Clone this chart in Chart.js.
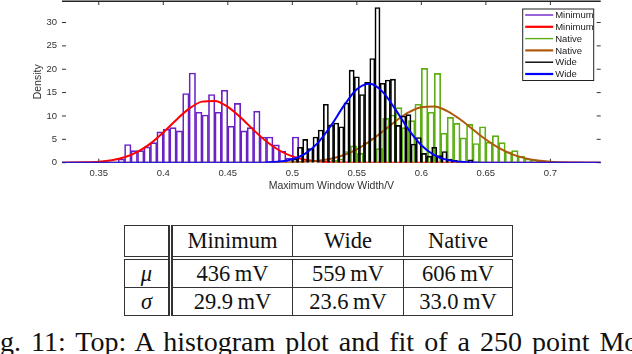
<!DOCTYPE html>
<html>
<head>
<meta charset="utf-8">
<script src="https://cdn.jsdelivr.net/npm/chart.js@4.4.1/dist/chart.umd.min.js"></script>
<style>
  html, body { margin: 0; padding: 0; background: #fff; }
  body { width: 632px; height: 354px; overflow: hidden; position: relative; }
  #plot { position: absolute; left: 0; top: 0; }
  #stats {
    position: absolute; left: 124px; top: 225px;
    border-collapse: collapse; table-layout: fixed; width: 388px;
    font-family: "Liberation Serif", "DejaVu Serif", serif; font-size: 22.5px; color: #111;
  }
  #stats td { border: 1px solid #333; padding: 0; text-align: center; line-height: 22px; }
  #stats tr.head td { height: 30px; border-bottom: 4px double #333; }
  #stats tr.row td { height: 27px; }
  #stats td.c0 { border-right: 5px double #333; }
  #stats i { font-style: italic; }
  #caption {
    position: absolute; left: 0; top: 327.5px; white-space: nowrap; word-spacing: 3px;
    font-family: "Liberation Serif", "DejaVu Serif", serif; font-size: 28px; line-height: 28px; color: #111;
  }
</style>
</head>
<body>
<canvas id="plot" width="632" height="200"></canvas>
<table id="stats">
  <colgroup><col style="width:46px"><col style="width:122px"><col style="width:111px"><col style="width:109px"></colgroup>
  <tbody id="statsBody"></tbody>
</table>
<div id="caption">g. 11: Top: A histogram plot and fit of a 250 point Mo</div>
<script>
// ---- data ----
const xTicks = [0.35, 0.4, 0.45, 0.5, 0.55, 0.6, 0.65, 0.7];
const yTicks = [0, 5, 10, 15, 20, 25, 30];

// Minimum: bins of 0.005 (centres)
const minimumBins = [0.3675, 0.3725, 0.3775, 0.3825, 0.3875, 0.3925, 0.3975, 0.4025, 0.4075, 0.4125,
  0.4175, 0.4225, 0.4275, 0.4325, 0.4375, 0.4425, 0.4475, 0.4525, 0.4575, 0.4625,
  0.4675, 0.4725, 0.4775, 0.4825, 0.4875, 0.4925, 0.4975, 0.5025];
const minimumDensity = [0.8, 3.9, 2.6, 2.6, 3.4, 4.3, 6.6, 7.2, 7.5, 6.8,
  14.8, 19.2, 10.8, 10.2, 14.6, 10.8, 15.5, 7.8, 12.7, 6.8,
  7.5, 11.0, 5.5, 5.5, 3.8, 2.5, 1.0, 5.5];

// Native: bins of 0.005 (centres)
const nativeBins = [0.5325, 0.5375, 0.5425, 0.5475, 0.5525, 0.5575, 0.5625, 0.5675, 0.5725, 0.5775,
  0.5825, 0.5875, 0.5925, 0.5975, 0.6025, 0.6075, 0.6125, 0.6175, 0.6225, 0.6275,
  0.6325, 0.6375, 0.6425, 0.6475, 0.6525, 0.6575, 0.6625, 0.6675, 0.6725, 0.6775,
  0.6825, 0.6875, 0.6925];
const nativeDensity = [0.5, 0.8, 2.4, 3.6, 2.0, 4.3, 5.2, 3.0, 9.5, 10.2,
  11.8, 7.5, 9.0, 12.5, 20.2, 10.8, 19.1, 6.3, 9.7, 8.4,
  5.3, 8.2, 4.1, 7.7, 4.4, 5.8, 4.3, 2.3, 2.6, 1.4,
  0.8, 0.6, 0.3];

// Wide: bins of 0.004 (centres)
const wideBins = [0.502, 0.506, 0.510, 0.514, 0.518, 0.522, 0.526, 0.530, 0.534, 0.538,
  0.542, 0.546, 0.550, 0.554, 0.558, 0.562, 0.566, 0.570, 0.574, 0.578,
  0.582, 0.586, 0.590, 0.594, 0.598, 0.602, 0.606, 0.610, 0.614, 0.618,
  0.622, 0.626, 0.630, 0.634, 0.638];
const wideDensity = [0.8, 3.3, 5.0, 3.0, 5.5, 7.0, 12.5, 8.1, 8.5, 7.7,
  12.8, 19.8, 18.4, 14.6, 17.2, 22.3, 33.2, 17.0, 17.7, 17.9,
  8.0, 10.0, 10.3, 4.0, 5.4, 2.0, 1.4, 3.3, 1.5, 2.4,
  0.8, 0.5, 0, 0, 0.6];

// fitted curves, sampled every 0.01 V
const fitX = [0.32, 0.33, 0.34, 0.35, 0.36, 0.37, 0.38, 0.39, 0.40, 0.41, 0.42, 0.43, 0.44, 0.45,
  0.46, 0.47, 0.48, 0.49, 0.50, 0.51, 0.52, 0.53, 0.54, 0.55, 0.56, 0.57, 0.58, 0.59,
  0.60, 0.61, 0.62, 0.63, 0.64, 0.65, 0.66, 0.67, 0.68, 0.69, 0.70, 0.71, 0.72, 0.73, 0.74];
const minimumFit = [0.01, 0.03, 0.08, 0.21, 0.53, 1.17, 2.31, 4.09, 6.46, 9.14, 11.56, 13.07, 13.22, 11.95,
  9.67, 6.99, 4.52, 2.61, 1.35, 0.62, 0.26, 0.1, 0.03, 0.01, 0, 0, 0, 0,
  0, 0, 0, 0, 0, 0, 0, 0, 0, 0, 0, 0, 0, 0, 0];
const wideFit = [0, 0, 0, 0, 0, 0, 0, 0, 0, 0, 0, 0, 0, 0,
  0, 0.01, 0.06, 0.24, 0.74, 1.96, 4.31, 7.94, 12.2, 15.7, 16.88, 15.16, 11.37, 7.13,
  3.74, 1.64, 0.6, 0.18, 0.05, 0.01, 0, 0, 0, 0, 0, 0, 0, 0, 0];
const nativeFit = [0, 0, 0, 0, 0, 0, 0, 0, 0, 0, 0, 0, 0, 0,
  0, 0, 0.01, 0.03, 0.07, 0.18, 0.4, 0.85, 1.64, 2.87, 4.58, 6.67, 8.87, 10.75,
  11.89, 12.0, 11.05, 9.29, 7.11, 4.97, 3.17, 1.84, 0.98, 0.47, 0.21, 0.09, 0.03, 0.01, 0];

// table
const tableCols = ['Minimum', 'Wide', 'Native'];
const muValues = ['436', '559', '606'];
const sigmaValues = ['29.9', '23.6', '33.0'];

// ---- table ----
const tb = document.getElementById('statsBody');
let html = '<tr class="head"><td class="c0"></td>' + tableCols.map(c => '<td>' + c + '</td>').join('') + '</tr>';
html += '<tr class="row"><td class="c0"><i>\u03bc</i></td>' + muValues.map(v => '<td>' + v + '\u2009mV</td>').join('') + '</tr>';
html += '<tr class="row"><td class="c0"><i>\u03c3</i></td>' + sigmaValues.map(v => '<td>' + v + '\u2009mV</td>').join('') + '</tr>';
tb.innerHTML = html;

// ---- chart ----
Chart.defaults.font.family = '"Liberation Sans", Arial, sans-serif';
Chart.defaults.color = '#333';

const pts = (xs, ys) => xs.map((x, i) => ({ x: x, y: ys[i] }));

function hist(label, bins, vals, color, order) {
  return { type: 'bar', label: label, data: pts(bins, vals), grouped: false,
    backgroundColor: 'rgba(0,0,0,0)', borderColor: color, borderWidth: 1, order: order };
}
function fit(label, vals, color, order) {
  return { type: 'line', label: label, data: pts(fitX, vals), borderColor: color, borderWidth: 2,
    pointRadius: 0, fill: false, cubicInterpolationMode: 'monotone', order: order };
}

const datasets = [
  hist('Minimum', minimumBins, minimumDensity, '#6a22c4', 5),
  fit('Minimum', minimumFit, '#ff0000', 4),
  hist('Native', nativeBins, nativeDensity, '#5cae12', 3),
  fit('Native', nativeFit, '#b0580a', 2),
  hist('Wide', wideBins, wideDensity, '#000000', 1),
  fit('Wide', wideFit, '#0000ff', 0)
];
const binWidths = [0.005, null, 0.005, null, 0.004, null];

const frame = {
  id: 'frame',
  beforeDatasetsDraw(chart) {
    const { ctx, chartArea: a, scales: { x, y } } = chart;
    ctx.save();
    ctx.strokeStyle = '#333';
    ctx.lineWidth = 1;
    ctx.beginPath();
    xTicks.forEach(v => {
      const px = x.getPixelForValue(v);
      ctx.moveTo(px, a.top); ctx.lineTo(px, a.top + 4);
      ctx.moveTo(px, a.bottom); ctx.lineTo(px, a.bottom - 4);
    });
    yTicks.forEach(v => {
      const py = y.getPixelForValue(v);
      ctx.moveTo(a.left, py); ctx.lineTo(a.left + 4, py);
      ctx.moveTo(a.right, py); ctx.lineTo(a.right - 4, py);
    });
    ctx.stroke();
    ctx.restore();
  },
  afterDraw(chart) {
    const { ctx, chartArea: a } = chart;
    ctx.save();
    ctx.strokeStyle = '#222';
    ctx.lineWidth = 1.4;
    ctx.beginPath();
    ctx.moveTo(a.left, a.top + 0.2); ctx.lineTo(a.right, a.top + 0.2);
    ctx.stroke();
    // legend
    const w = 71, h = 71.5, bx = a.right - 7.5 - w, by = a.top + 7.5;
    ctx.fillStyle = '#fff';
    ctx.fillRect(bx, by, w, h);
    ctx.lineWidth = 1;
    ctx.strokeStyle = '#222';
    ctx.strokeRect(bx + 0.5, by + 0.5, w, h);
    ctx.font = '9.5px "Liberation Sans", Arial, sans-serif';
    ctx.textBaseline = 'middle';
    chart.data.datasets.forEach((d, i) => {
      const ry = by + 6.5 + i * 11.8;
      ctx.strokeStyle = d.borderColor;
      ctx.lineWidth = d.type === 'line' ? 2.2 : 1.4;
      ctx.beginPath(); ctx.moveTo(bx + 3, ry); ctx.lineTo(bx + 31, ry); ctx.stroke();
      ctx.fillStyle = '#222';
      ctx.fillText(d.label, bx + 33, ry + 0.5);
    });
    ctx.restore();
  }
};

const chart = new Chart(document.getElementById('plot'), {
  type: 'bar',
  data: { datasets: datasets },
  options: {
    responsive: false,
    animation: false,
    layout: { padding: { top: 1, right: 31.3, left: 0, bottom: 0 } },
    plugins: { legend: { display: false }, tooltip: { enabled: false } },
    scales: {
      x: {
        type: 'linear', min: 0.3215, max: 0.739, offset: false,
        grid: { display: false, drawTicks: false }, border: { display: false },
        afterBuildTicks: s => { s.ticks = xTicks.map(v => ({ value: v })); },
        afterFit: s => { s.height = 37.3; s.paddingLeft = 0; s.paddingRight = 0; },
        ticks: { padding: 5, maxRotation: 0, font: { size: 9.5 }, color: '#333',
          callback: v => String(Number(v.toFixed(2))) },
        title: { display: true, text: 'Maximum Window Width/V', font: { size: 10.5 }, color: '#333',
          padding: { top: 0, bottom: 7.7 } }
      },
      y: {
        min: 0, max: 34.6,
        grid: { display: false, drawTicks: false }, border: { display: false },
        afterBuildTicks: s => { s.ticks = yTicks.map(v => ({ value: v })); },
        afterFit: s => { s.width = 62; s.paddingTop = 0; s.paddingBottom = 0; },
        ticks: { padding: 5, font: { size: 9.5 }, color: '#333', callback: v => String(v) },
        title: { display: true, text: 'Density', font: { size: 10.5 }, color: '#333',
          padding: { top: 31.7, bottom: 0 } }
      }
    }
  },
  plugins: [frame]
});

// bar widths follow the bin widths through the x scale
const xs = chart.scales.x;
chart.data.datasets.forEach((d, i) => {
  if (binWidths[i]) d.barThickness = xs.getPixelForValue(xs.min + binWidths[i]) - xs.getPixelForValue(xs.min);
});
chart.update('none');
</script>
</body>
</html>
